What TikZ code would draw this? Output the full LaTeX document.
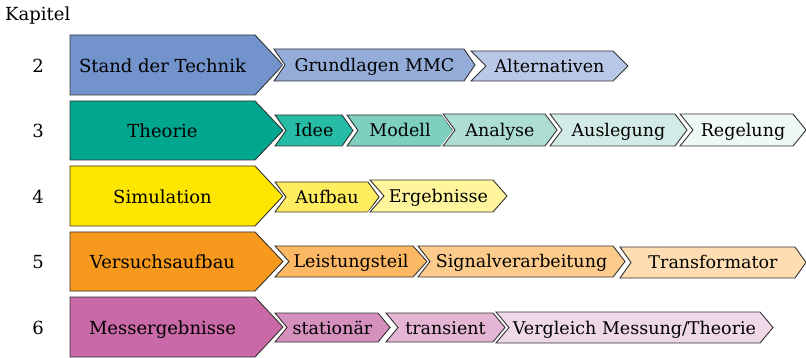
\documentclass[tikz,border=0pt]{standalone}
\usepackage{fontspec}
\setmainfont{DejaVu Serif}
\definecolor{mblue}{HTML}{7293CB}
\definecolor{cblueA}{HTML}{94ADD8}
\definecolor{cblueB}{HTML}{BAC8E7}
\definecolor{mteal}{HTML}{00A78E}
\definecolor{ctealA}{HTML}{26BBA5}
\definecolor{ctealB}{HTML}{7ECFC0}
\definecolor{ctealC}{HTML}{AEDDD3}
\definecolor{ctealD}{HTML}{D3EBE6}
\definecolor{ctealE}{HTML}{EEF8F6}
\definecolor{myel}{HTML}{FFE600}
\definecolor{cyelA}{HTML}{FFEC5F}
\definecolor{cyelB}{HTML}{FFF59D}
\definecolor{morg}{HTML}{F7991C}
\definecolor{corgA}{HTML}{FDB865}
\definecolor{corgB}{HTML}{FDCB8C}
\definecolor{corgC}{HTML}{FEDDB3}
\definecolor{mmag}{HTML}{C969A7}
\definecolor{cmagA}{HTML}{D690BE}
\definecolor{cmagB}{HTML}{E5B6D4}
\definecolor{cmagC}{HTML}{EFD9E8}
\tikzset{
  halo/.style={draw=white, line width=3.2, line join=miter},
  shapebox/.style={draw=black!80, line width=0.9, line join=miter},
  lbl/.style={anchor=base, inner sep=0pt, font=\fontsize{17.5}{20}\selectfont},
  mainlbl/.style={lbl, font=\fontsize{18}{21}\selectfont},
}
% main arrow: name, top, bottom, color, text, number
\newcommand\mainarr[6]{%
  \pgfmathsetmacro\mm{(#2+#3)/2}%
  \path[shapebox, fill=#4] (70,#2) -- (255,#2) -- (283,\mm) -- (255,#3) -- (70,#3) -- cycle;
  \node[mainlbl] (#1) at (162.5,\mm+7.5) {#5};
  \node[mainlbl] (#1num) at (38,\mm+7.5) {#6};
}
% chevron: name, left, top, bottom, bodyend, tip, color, text
\newcommand\chv[8]{%
  \pgfmathsetmacro\cd{#6-#5}%
  \pgfmathsetmacro\cm{(#3+#4)/2}%
  \pgfmathsetmacro\cx{(#2+\cd+#5)/2}%
  \path[halo] (#2,#3) -- (#5,#3) -- (#6,\cm) -- (#5,#4) -- (#2,#4) -- (#2+\cd,\cm) -- cycle;
  \path[shapebox, fill=#7] (#2,#3) -- (#5,#3) -- (#6,\cm) -- (#5,#4) -- (#2,#4) -- (#2+\cd,\cm) -- cycle;
  \node[lbl] (#1) at (\cx,\cm+6.5) {#8};
}
\begin{document}
\begin{tikzpicture}[x=1pt,y=-1pt]
\useasboundingbox (0,0) rectangle (806,358);
\node[lbl, anchor=base west, font=\fontsize{18}{21}\selectfont] (kap) at (5,21) {Kapitel};
% row 2
\mainarr{m2}{35}{95}{mblue}{Stand der Technik}{2}
\chv{c21}{274}{49}{81}{464}{475}{cblueA}{Grundlagen MMC}
\chv{c22}{471}{51}{81}{613}{628}{cblueB}{Alternativen}
% row 3
\mainarr{m3}{101}{160}{mteal}{Theorie}{3}
\chv{c31}{275}{115}{146}{342}{353}{ctealA}{Idee}
\chv{c32}{347}{115}{146}{442}{453}{ctealB}{Modell}
\chv{c33}{443}{114}{146}{545}{557}{ctealC}{Analyse}
\chv{c34}{550}{114}{146}{675}{687}{ctealD}{Auslegung}
\chv{c35}{680}{114}{146}{793}{806}{ctealE}{Regelung}
% row 4
\mainarr{m4}{166}{226}{myel}{Simulation}{4}
\chv{c41}{275}{182}{212}{368}{379}{cyelA}{Aufbau}
\chv{c42}{370}{180}{212}{493}{507}{cyelB}{Ergebnisse}
% row 5
\mainarr{m5}{232}{291}{morg}{Versuchsaufbau}{5}
\chv{c51}{275}{246}{277}{413}{427}{corgA}{Leistungsteil}
\chv{c52}{418}{246}{277}{613}{625}{corgB}{Signalverarbeitung}
\chv{c53}{620}{247}{278}{795}{806}{corgC}{Transformator}
% row 6
\mainarr{m6}{297}{357}{mmag}{Messergebnisse}{6}
\chv{c61}{275}{313}{342}{378}{390}{cmagA}{stationär}
\chv{c62}{386}{313}{342}{493}{505}{cmagB}{transient}
\chv{c63}{496}{312}{343}{760}{773}{cmagC}{Vergleich Messung/Theorie}
\end{tikzpicture}
\end{document}
